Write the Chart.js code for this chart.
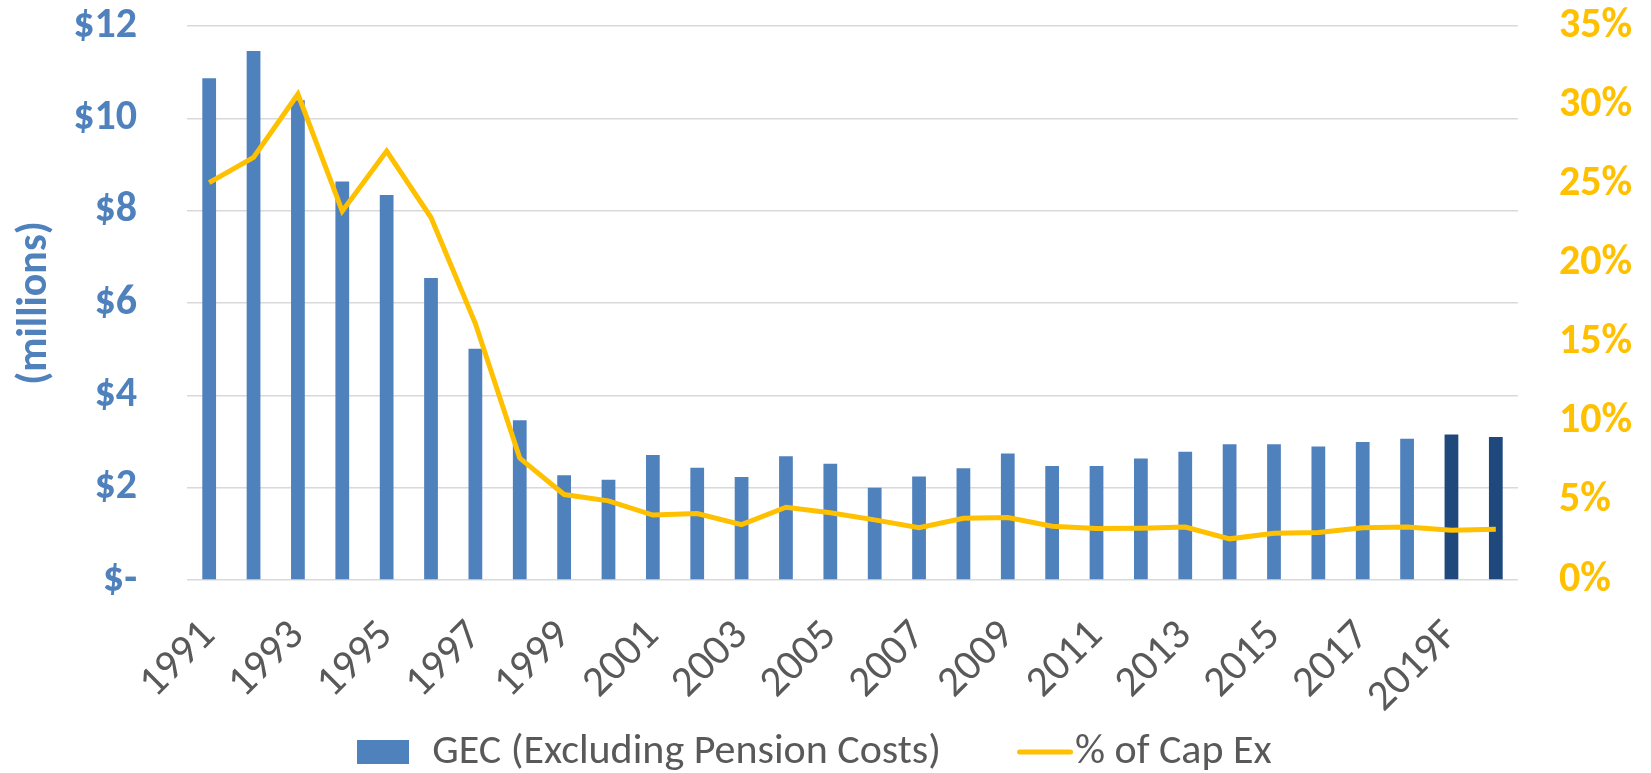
<!DOCTYPE html>
<html>
<head>
<meta charset="utf-8">
<script src="https://cdn.jsdelivr.net/npm/chart.js@4/dist/chart.umd.min.js"></script>
<style>
  html, body { margin: 0; padding: 0; background: #fff; }
  #wrap { width: 1651px; height: 773px; }
</style>
</head>
<body>
<div id="wrap"><canvas id="grafico"></canvas></div>
<script>
const anos = [
  '1991', '1992', '1993', '1994', '1995', '1996', '1997', '1998', '1999', '2000',
  '2001', '2002', '2003', '2004', '2005', '2006', '2007', '2008', '2009', '2010',
  '2011', '2012', '2013', '2014', '2015', '2016', '2017', '2018', '2019F', '2020F'
];
// GEC em milhões
const gec = [
  10.87, 11.46, 10.39, 8.63, 8.34, 6.54, 5.01, 3.46, 2.27, 2.17,
  2.71, 2.43, 2.23, 2.68, 2.52, 2.00, 2.24, 2.42, 2.74, 2.47,
  2.47, 2.63, 2.78, 2.94, 2.94, 2.89, 2.99, 3.06, 3.15, 3.10
];
// % do Cap Ex
const pctCapEx = [
  25.1, 26.7, 30.7, 23.3, 27.1, 22.9, 16.2, 7.7, 5.4, 5.0,
  4.1, 4.2, 3.5, 4.6, 4.25, 3.8, 3.3, 3.9, 3.95, 3.4,
  3.25, 3.27, 3.35, 2.6, 2.95, 3.0, 3.3, 3.35, 3.15, 3.2
];
const ticksEsquerda = [0, 2, 4, 6, 8, 10, 12];
const ticksDireita = [0, 5, 10, 15, 20, 25, 30, 35];

const azul = "#4F81BD";
const azulEscuro = "#1F497D";
const amarelo = "#FFC000";
const cinza = "#595959";
const fonte = "Carlito, Calibri, Lato, sans-serif";

// marcadores da legenda
const marcaBarra = document.createElement("canvas");
marcaBarra.width = 52; marcaBarra.height = 24;
marcaBarra.getContext("2d").fillStyle = azul;
marcaBarra.getContext("2d").fillRect(0, 0, 52, 24);

const marcaLinha = document.createElement("canvas");
marcaLinha.width = 94; marcaLinha.height = 6;
const cl = marcaLinha.getContext("2d");
cl.strokeStyle = amarelo; cl.lineWidth = 5; cl.lineCap = "round";
cl.beginPath(); cl.moveTo(40.5, 3); cl.lineTo(91.5, 3); cl.stroke();

// reposiciona a legenda (o padding dos itens empurra ela)
const ajusteLegenda = {
  id: "ajusteLegenda",
  afterLayout(chart) {
    chart.legend.left -= 10;
    chart.legend.right -= 10;
    chart.legend.top -= 56;
  },
};

const GraphGec = document.getElementById("grafico");

new Chart(GraphGec, {
  type: "bar",
  data: {
    labels: anos,
    datasets: [
      {
        label: "GEC (Excluding Pension Costs)",
        data: gec,
        backgroundColor: anos.map(a => a.endsWith("F") ? azulEscuro : azul),
        barPercentage: 0.31,
        categoryPercentage: 1,
        yAxisID: "y",
        order: 2,
      },
      {
        type: "line",
        label: "% of Cap Ex",
        data: pctCapEx,
        borderColor: amarelo,
        backgroundColor: amarelo,
        borderWidth: 5,
        pointRadius: 0,
        tension: 0,
        yAxisID: "y1",
        order: 1,
      }
    ],
  },
  plugins: [ajusteLegenda],
  options: {
    responsive: true,
    maintainAspectRatio: false,
    animation: false,
    layout: { padding: { top: 26, left: 10, right: 14, bottom: 0 } },
    scales: {
      x: {
        grid: { display: false },
        border: { display: false },
        ticks: {
          autoSkip: false,
          maxRotation: 45,
          minRotation: 45,
          color: cinza,
          font: { family: fonte, size: 43 },
          padding: 23,
          callback: function (v, i) { return i % 2 === 0 ? anos[i] : ""; },
        },
        afterFit: (s) => { s.height = 150; },
      },
      y: {
        position: "left",
        min: 0,
        max: 12,
        afterBuildTicks: (s) => { s.ticks = ticksEsquerda.map(v => ({ value: v })); },
        grid: { color: "#D9D9D9", lineWidth: 1.5, drawTicks: false },
        border: { display: false },
        title: {
          display: true,
          text: "(millions)",
          color: azul,
          font: { family: fonte, size: 42, weight: "bold" },
          padding: { top: 0, bottom: 0 },
        },
        ticks: {
          color: azul,
          font: { family: fonte, size: 42, weight: "bold" },
          padding: 50,
          callback: (v) => v === 0 ? "$-" : "$" + v,
        },
        afterFit: (s) => { s.width = 177; s.paddingTop = 0; s.paddingBottom = 0; },
      },
      y1: {
        position: "right",
        min: 0,
        max: 35,
        afterBuildTicks: (s) => { s.ticks = ticksDireita.map(v => ({ value: v })); },
        grid: { display: false },
        border: { display: false },
        ticks: {
          color: amarelo,
          font: { family: fonte, size: 42, weight: "bold" },
          padding: 33,
          callback: (v) => v + "%",
        },
        afterFit: (s) => { s.width = 119; s.paddingTop = 0; s.paddingBottom = 0; },
      },
    },
    plugins: {
      tooltip: { enabled: false },
      legend: {
        position: "bottom",
        maxHeight: 43,
        labels: {
          usePointStyle: true,
          pointStyleWidth: 56,
          color: cinza,
          font: { family: fonte, size: 42 },
          padding: 57,
          sort: (a, b) => a.datasetIndex - b.datasetIndex,
          generateLabels: function (chart) {
            const itens = Chart.defaults.plugins.legend.labels.generateLabels(chart);
            itens.forEach(it => { it.pointStyle = it.datasetIndex === 0 ? marcaBarra : marcaLinha; });
            return itens;
          },
        },
      },
    },
  },
});
</script>
</body>
</html>
